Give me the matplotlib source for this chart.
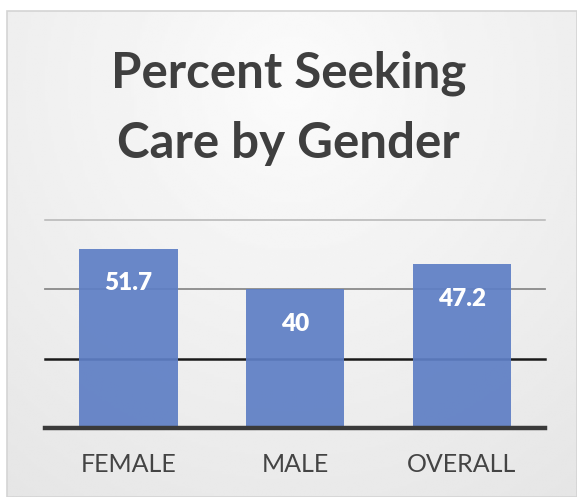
import numpy as np
import matplotlib.pyplot as plt
from matplotlib.patches import Rectangle

categories = ['FEMALE', 'MALE', 'OVERALL']
values     = [51.7, 40, 47.2]
labels     = ['51.7', '40', '47.2']
gridvals   = [20, 40, 60]
title      = 'Percent Seeking\nCare by Gender'

W, H = 577, 497
fig = plt.figure(figsize=(W / 100, H / 100), dpi=100)
fig.patch.set_facecolor('white')

# soft gray panel with a light radial glow behind the title
x0, y0 = 7 / W, 0.0
bg = fig.add_axes([x0, y0, 1 - x0, 1 - 11 / H], zorder=0)
yy, xx = np.mgrid[0:1:200j, 0:1:200j]
r = np.sqrt(((xx - 0.5) / 0.9) ** 2 + ((yy - 0.15) / 1.1) ** 2)
shade = 0.985 - 0.09 * np.clip(r, 0, 1)
bg.imshow(shade, cmap='gray', vmin=0, vmax=1, aspect='auto',
          extent=[0, 1, 1, 0], interpolation='bilinear')
bg.add_patch(Rectangle((0, 0), 1, 1, transform=bg.transAxes, fill=False,
                       edgecolor='#d4d4d4', lw=1.2, clip_on=False))
bg.set_axis_off()

ax = fig.add_axes([45 / W, 1 - 428 / H, 500 / W, (428 - 220) / H], zorder=1)
ax.patch.set_alpha(0)
ax.set_xlim(-0.5, 2.5)
ax.set_ylim(0, 60)

grid_cols = {20: '#1a1a1a', 40: '#8a8a8a', 60: '#b5b5b5'}
grid_lw   = {20: 1.8, 40: 1.3, 60: 1.1}
for g in gridvals:
    ax.axhline(g, color=grid_cols[g], lw=grid_lw[g], zorder=1, clip_on=False)
ax.axhline(0, color='#3a3a3a', lw=3.2, zorder=3, clip_on=False)

x = np.arange(len(categories))
bars = ax.bar(x, values, width=0.59, color='#5f7fc5', alpha=0.93, zorder=2)

for b, lab in zip(bars, labels):
    ax.annotate(lab, (b.get_x() + b.get_width() / 2, b.get_height()),
                xytext=(0, -25), textcoords='offset points',
                ha='center', va='center', color='white',
                fontsize=17.5, fontweight='heavy', family='Lato', zorder=4)

ax.set_xticks(x)
ax.set_xticklabels(categories, fontsize=18, color='#444444', family='Lato')
ax.tick_params(axis='x', length=0, pad=18)
ax.set_yticks([])
for s in ax.spines.values():
    s.set_visible(False)

fig.text(0.5, 1 - 108 / H, title, ha='center', va='center', fontsize=35.5,
         fontweight='bold', color='#3f3f3f', family='Lato', linespacing=1.68)

fig.savefig('out.png', dpi=100)
